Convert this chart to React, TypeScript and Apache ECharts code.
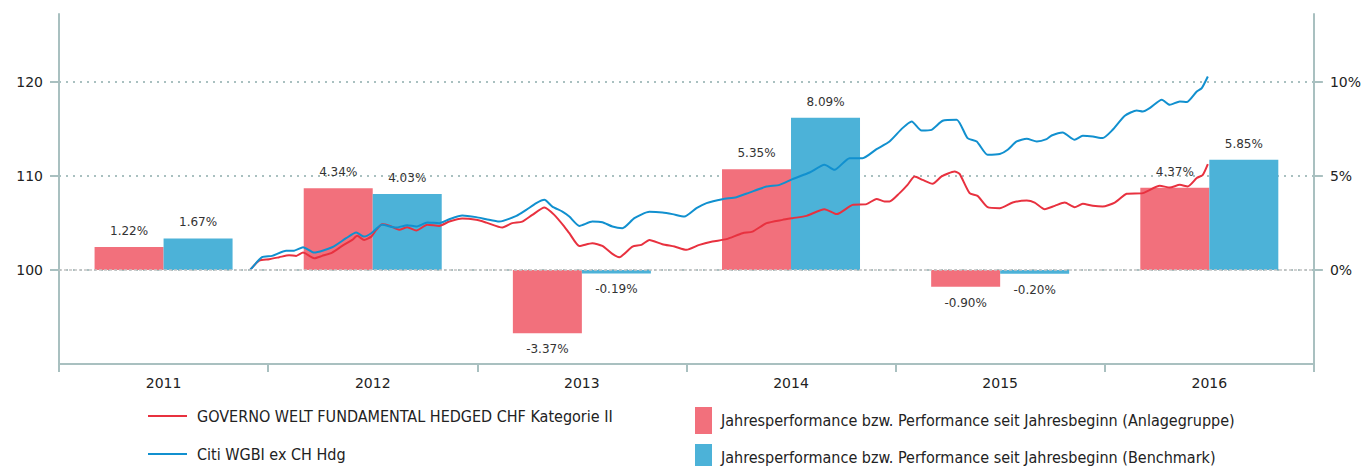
import React, { useEffect, useRef } from "react";
import * as echarts from "echarts";

const years = ["2011", "2012", "2013", "2014", "2015", "2016"];
const fundYearPerf = [1.22, 4.34, -3.37, 5.35, -0.9, 4.37];
const benchYearPerf = [1.67, 4.03, -0.19, 8.09, -0.2, 5.85];

const leftTicks = [100, 110, 120];
const rightTicks = [0, 5, 10];

// time in years after 1 Jan 2011
const fundT = [0.914,0.957,1.005,1.053,1.100,1.134,1.167,1.220,1.258,1.306,1.354,1.402,1.426,1.459,1.493,1.517,1.545,1.579,1.627,1.665,1.708,1.761,1.818,1.866,1.928,1.995,2.043,2.120,2.167,2.215,2.263,2.321,2.368,2.416,2.440,2.488,2.550,2.598,2.646,2.679,2.742,2.785,2.823,2.885,2.943,3.000,3.062,3.124,3.191,3.268,3.316,3.383,3.459,3.507,3.574,3.660,3.718,3.794,3.861,3.909,3.947,3.971,4.019,4.057,4.091,4.129,4.177,4.220,4.282,4.306,4.354,4.392,4.440,4.498,4.560,4.627,4.665,4.713,4.761,4.809,4.856,4.895,4.943,4.990,5.048,5.105,5.182,5.263,5.311,5.359,5.397,5.440,5.469,5.493];
const fundV = [100.0,100.99,101.14,101.35,101.56,101.49,101.84,101.24,101.49,101.84,102.55,103.19,103.62,103.19,103.54,104.26,104.86,104.71,104.26,104.54,104.18,104.79,104.68,105.14,105.46,105.32,105.03,104.50,104.97,105.14,105.85,106.63,105.85,104.61,103.90,102.55,102.84,102.55,101.70,101.35,102.48,102.66,103.19,102.73,102.48,102.13,102.66,103.01,103.27,103.90,104.07,104.97,105.32,105.50,105.74,106.46,105.93,106.91,106.99,107.55,107.27,107.27,108.16,109.04,109.93,109.57,109.15,109.93,110.46,110.21,108.16,107.87,106.67,106.56,107.16,107.37,107.16,106.46,106.81,107.16,106.67,107.02,106.81,106.73,107.16,108.09,108.16,108.94,108.76,109.04,108.86,109.76,110.11,111.24];

const benchT = [0.914,0.971,1.019,1.086,1.124,1.167,1.220,1.306,1.373,1.421,1.459,1.493,1.545,1.612,1.665,1.708,1.761,1.818,1.866,1.928,1.995,2.043,2.105,2.187,2.234,2.282,2.321,2.359,2.407,2.440,2.488,2.550,2.598,2.646,2.694,2.751,2.823,2.885,2.933,2.990,3.048,3.096,3.172,3.239,3.301,3.383,3.445,3.507,3.589,3.660,3.708,3.780,3.842,3.909,3.971,4.033,4.077,4.124,4.172,4.225,4.292,4.344,4.388,4.440,4.498,4.536,4.579,4.627,4.675,4.722,4.746,4.799,4.856,4.895,4.943,4.990,5.038,5.096,5.153,5.182,5.215,5.273,5.311,5.359,5.392,5.440,5.464,5.493];
const benchV = [100.0,101.35,101.49,102.05,102.05,102.41,101.84,102.41,103.37,103.97,103.54,103.90,104.79,104.50,104.76,104.61,105.03,104.97,105.39,105.78,105.61,105.39,105.14,105.74,106.38,107.10,107.45,106.73,106.20,105.67,104.68,105.14,105.07,104.61,104.44,105.50,106.17,106.10,105.93,105.67,106.56,107.10,107.52,107.73,108.22,108.86,109.04,109.65,110.35,111.17,110.64,111.88,111.88,112.84,113.65,115.07,115.78,114.82,114.89,115.85,115.96,114.01,113.65,112.23,112.31,112.77,113.65,113.94,113.65,113.90,114.29,114.61,113.83,114.26,114.18,114.01,114.89,116.38,116.95,116.84,117.20,118.09,117.55,117.90,117.84,118.97,119.33,120.56];

const fundName = "GOVERNO WELT FUNDAMENTAL HEDGED CHF Kategorie II";
const benchName = "Citi WGBI ex CH Hdg";
const barFundName = "Jahresperformance bzw. Performance seit Jahresbeginn (Anlagegruppe)";
const barBenchName = "Jahresperformance bzw. Performance seit Jahresbeginn (Benchmark)";

const AXIS = "#a9c0c0";
const RED_LINE = "#e8313f";
const BLUE_LINE = "#1190cf";
const RED_BAR = "#f2707c";
const BLUE_BAR = "#4cb2d8";
const FONT = "DejaVu Sans";
const LEGEND_FONT = "DejaVu Sans Condensed";

export default function App() {
  const ref = useRef<HTMLDivElement>(null);
  useEffect(() => {
    if (!ref.current) return;
    const chart = echarts.init(ref.current, undefined, { renderer: "svg" });
    const barLabel = (pos: "top" | "bottom") => ({
      show: true,
      fontFamily: FONT,
      fontSize: 12,
      color: "#333",
      distance: 10,
      formatter: (p: any) => p.value.toFixed(2) + "%",
      position: pos,
    });
    const barData = (vals: number[]) =>
      vals.map((v) => ({ value: v, label: barLabel(v >= 0 ? "top" : "bottom") }));
    const lineLegend = (name: string, top: number) => ({
      data: [name],
      orient: "vertical",
      left: 148,
      top,
      padding: 0,
      icon: "rect",
      itemWidth: 39,
      itemHeight: 2,
      selectedMode: false,
      textStyle: { fontFamily: LEGEND_FONT, fontSize: 16, color: "#222", padding: [0, 0, 0, 5] },
    });
    const barLegend = (name: string, top: number) => ({
      data: [name],
      orient: "vertical",
      left: 695,
      top,
      padding: 0,
      icon: "rect",
      itemWidth: 17,
      itemHeight: 27,
      selectedMode: false,
      textStyle: { fontFamily: LEGEND_FONT, fontSize: 16, color: "#222", padding: [0, 0, 0, 4] },
    });
    chart.setOption({
      animation: false,
      grid: { left: 59, right: 50, top: 14, bottom: 102, containLabel: false },
      legend: [
        lineLegend(fundName, 408),
        lineLegend(benchName, 446),
        barLegend(barFundName, 407),
        barLegend(barBenchName, 444),
      ],
      xAxis: [
        {
          type: "category",
          data: years,
          boundaryGap: true,
          axisLine: { onZero: false, lineStyle: { color: AXIS, width: 2 } },
          axisTick: { show: true, length: 8, lineStyle: { color: AXIS, width: 2 } },
          axisLabel: { fontFamily: FONT, fontSize: 14, color: "#222", margin: 12 },
          splitLine: { show: false },
        },
        { type: "value", min: 0, max: 6, show: false },
      ],
      yAxis: [
        {
          type: "value",
          min: 90,
          max: 127.2,
          interval: 10,
          position: "left",
          axisLine: { show: true, lineStyle: { color: AXIS, width: 2 } },
          axisTick: { show: true, length: 9, lineStyle: { color: AXIS, width: 2 }, customValues: leftTicks },
          axisLabel: { fontFamily: FONT, fontSize: 14, color: "#222", margin: 16, customValues: leftTicks },
          splitLine: { show: true, lineStyle: { color: AXIS, type: [2, 5], width: 2 } },
        },
        {
          type: "value",
          min: -5,
          max: 13.6,
          interval: 5,
          position: "right",
          axisLine: { show: true, lineStyle: { color: AXIS, width: 2 } },
          axisTick: { show: true, length: 9, lineStyle: { color: AXIS, width: 2 }, customValues: rightTicks },
          axisLabel: {
            fontFamily: FONT,
            fontSize: 14,
            color: "#222",
            margin: 16,
            customValues: rightTicks,
            formatter: "{value}%",
          },
          splitLine: { show: false },
        },
      ],
      series: [
        {
          name: barFundName,
          type: "bar",
          xAxisIndex: 0,
          yAxisIndex: 1,
          barWidth: 69,
          barGap: "0%",
          itemStyle: { color: RED_BAR },
          data: barData(fundYearPerf),
          markLine: {
            silent: true,
            symbol: "none",
            label: { show: false },
            lineStyle: { color: "#c4c4c4", type: [3, 2], width: 1.5 },
            data: [{ yAxis: 0 }],
          },
          z: 2,
        },
        {
          name: barBenchName,
          type: "bar",
          xAxisIndex: 0,
          yAxisIndex: 1,
          barWidth: 69,
          barGap: "0%",
          itemStyle: { color: BLUE_BAR },
          data: barData(benchYearPerf),
          z: 2,
        },
        {
          name: fundName,
          type: "line",
          xAxisIndex: 1,
          yAxisIndex: 0,
          showSymbol: false,
          smooth: 0.2,
          lineStyle: { color: RED_LINE, width: 2 },
          itemStyle: { color: RED_LINE },
          data: fundT.map((t, i) => [t, fundV[i]]),
          z: 4,
        },
        {
          name: benchName,
          type: "line",
          xAxisIndex: 1,
          yAxisIndex: 0,
          showSymbol: false,
          smooth: 0.2,
          lineStyle: { color: BLUE_LINE, width: 2 },
          itemStyle: { color: BLUE_LINE },
          data: benchT.map((t, i) => [t, benchV[i]]),
          z: 4,
        },
      ],
    });
    return () => chart.dispose();
  }, []);
  return (
    <div
      ref={ref}
      style={{ position: "fixed", left: 0, top: 0, width: 1364, height: 466, background: "#fff" }}
    />
  );
}
